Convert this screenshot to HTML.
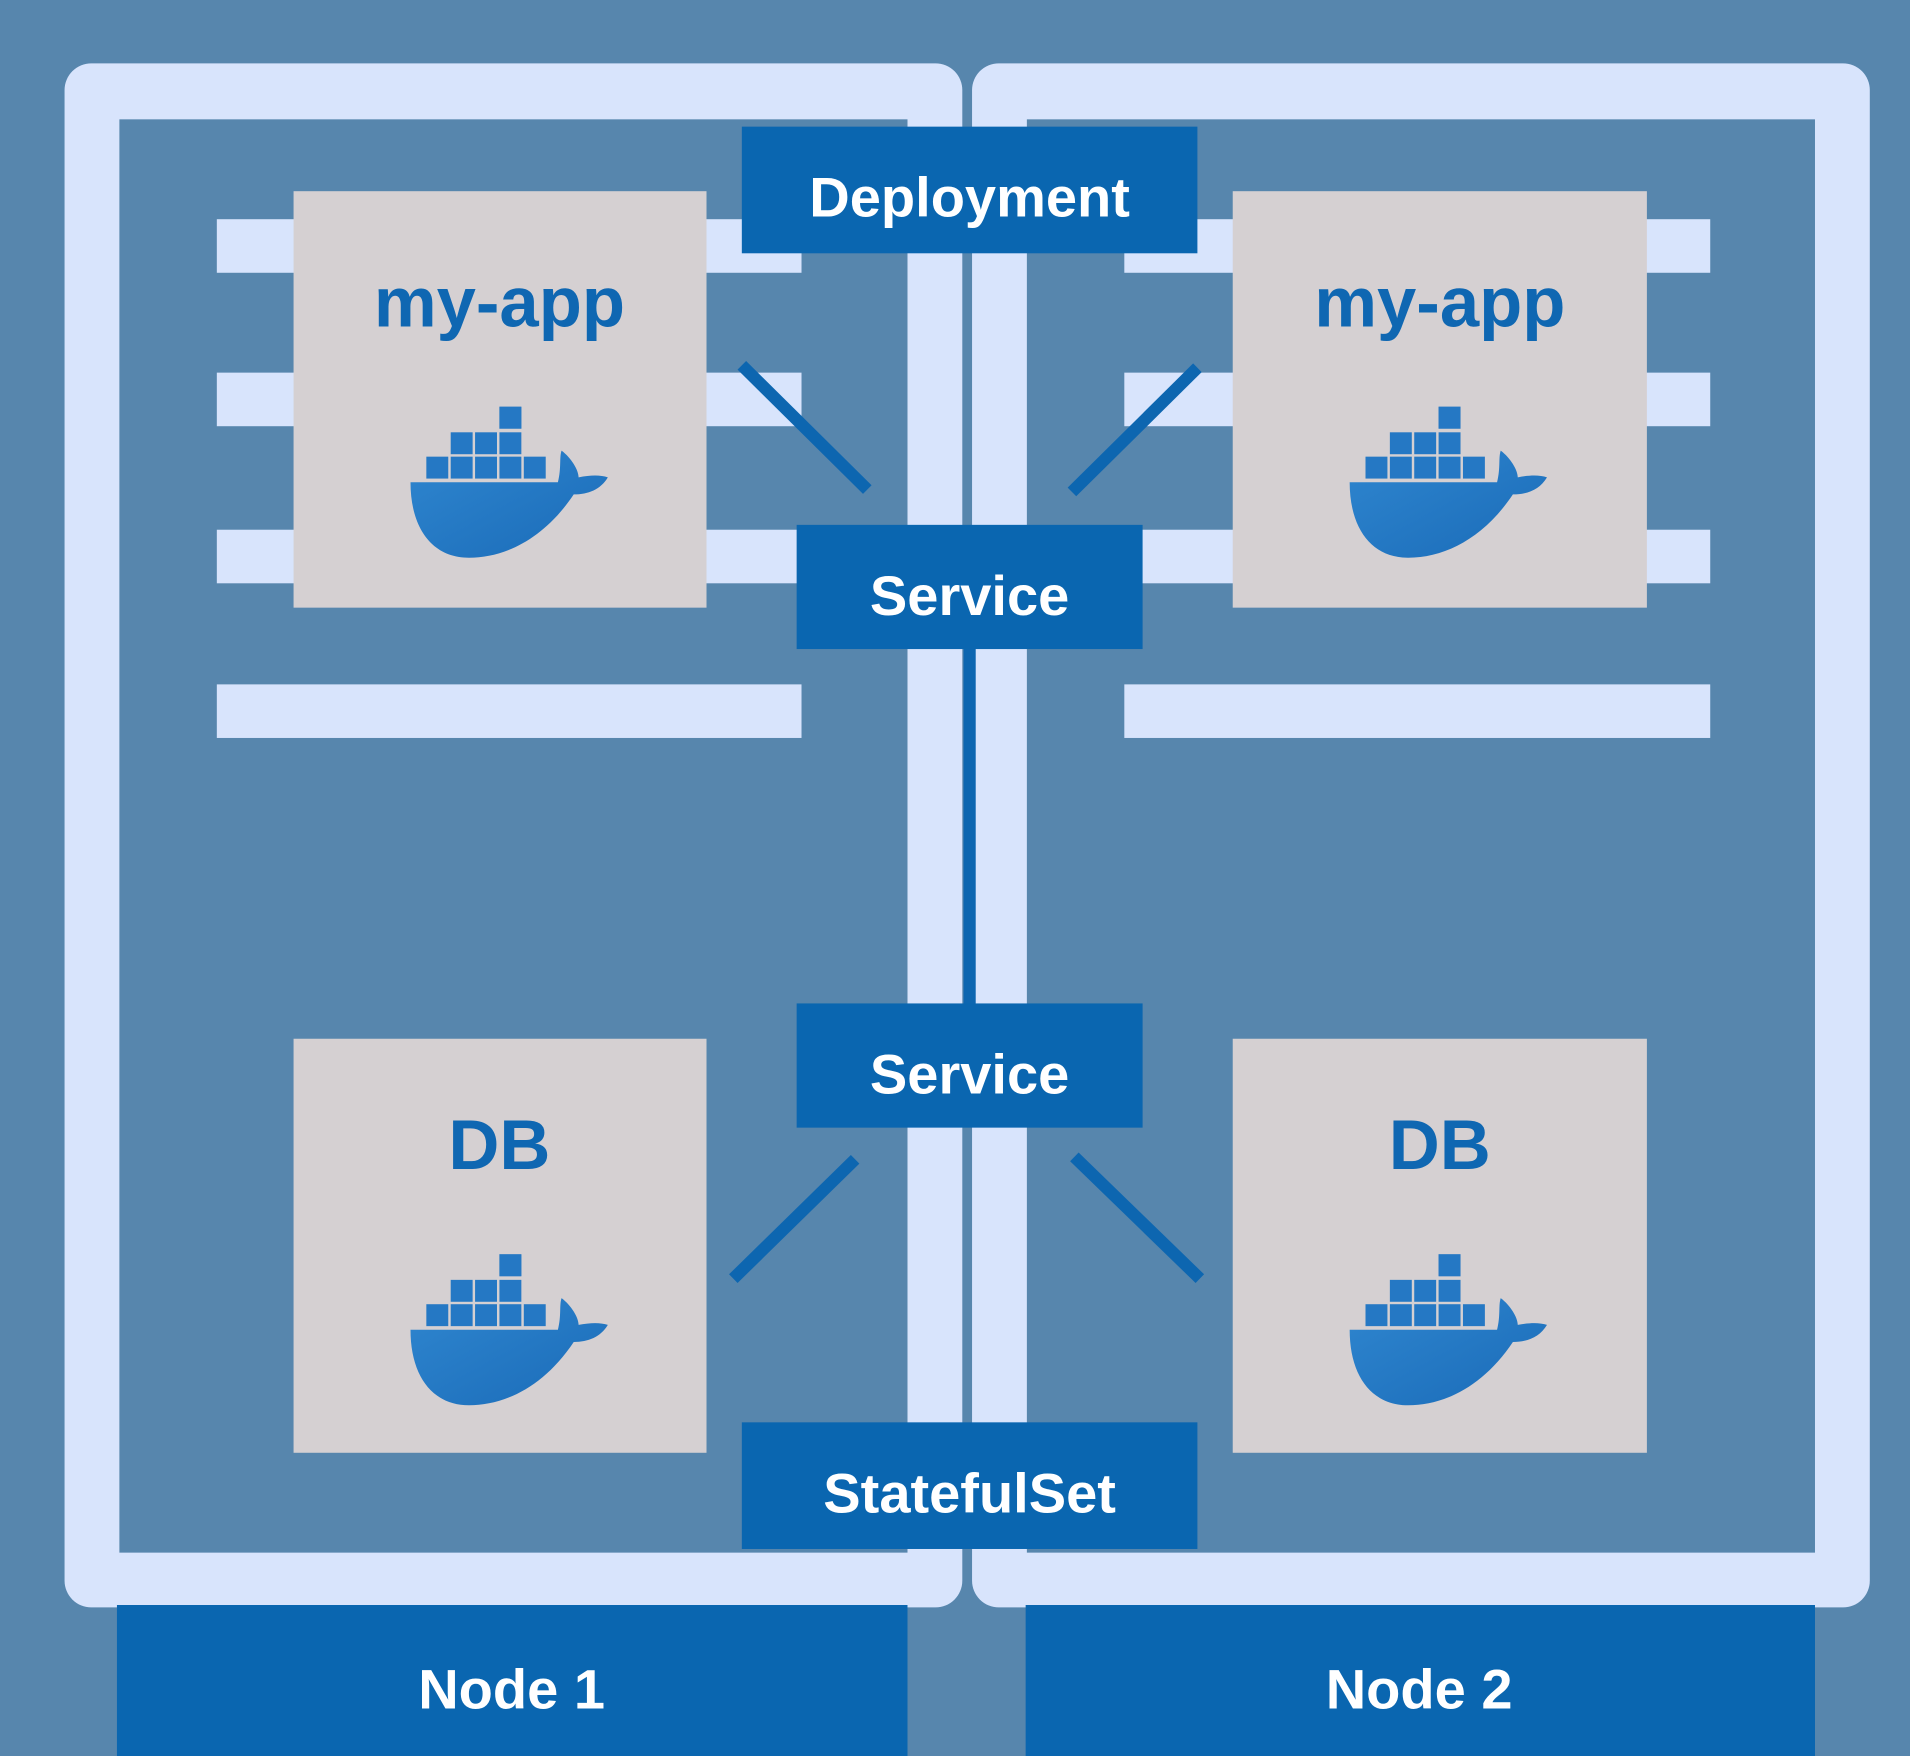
<!DOCTYPE html>
<html><head><meta charset="utf-8"><style>
html,body{margin:0;padding:0;background:#5786ad;}
svg{display:block}
text{font-family:"Liberation Sans",sans-serif;font-weight:bold;}
</style></head><body>
<svg width="1910" height="1756" viewBox="0 0 1568 1442" preserveAspectRatio="none" xmlns="http://www.w3.org/2000/svg">
<defs>
<linearGradient id="wg" x1="0" y1="0" x2="1" y2="1">
<stop offset="0" stop-color="#2f86cf"/><stop offset="1" stop-color="#1a6bb8"/>
</linearGradient>
<g id="whale">
<rect x="0" y="0" width="18" height="18" fill="#2578c4" transform="translate(75,0)"/>
<g fill="#2578c4">
<rect x="75" y="0" width="18" height="18"/>
<rect x="35" y="21" width="18" height="18"/><rect x="55" y="21" width="18" height="18"/><rect x="75" y="21" width="18" height="18"/>
<rect x="15" y="41" width="18" height="18"/><rect x="35" y="41" width="18" height="18"/><rect x="55" y="41" width="18" height="18"/><rect x="75" y="41" width="18" height="18"/><rect x="95" y="41" width="18" height="18"/>
</g>
<path d="M2,62 L123,62 C126,50 124,42 126,36 C134,42 140,52 140,58 C150,56 158,56 164,58 C158,68 148,72 136,72 C112,108 80,124 50,124 C20,124 2,100 2,62 Z" fill="url(#wg)"/>
</g>
</defs>
<rect width="1568" height="1442" fill="#5786ad"/>
<!-- frames -->
<rect x="53" y="52" width="737" height="1268" rx="22" fill="#d8e4fc"/>
<rect x="98" y="98" width="647" height="1177" fill="#5786ad"/>
<rect x="798" y="52" width="737" height="1268" rx="22" fill="#d8e4fc"/>
<rect x="843" y="98" width="647" height="1177" fill="#5786ad"/>
<!-- stripes -->
<g fill="#d8e4fc">
<rect x="178" y="180" width="480" height="44"/><rect x="178" y="306" width="480" height="44"/><rect x="178" y="435" width="480" height="44"/><rect x="178" y="562" width="480" height="44"/>
<rect x="923" y="180" width="481" height="44"/><rect x="923" y="306" width="481" height="44"/><rect x="923" y="435" width="481" height="44"/><rect x="923" y="562" width="481" height="44"/>
</g>
<!-- pods -->
<g fill="#d5d0d2">
<rect x="241" y="157" width="339" height="342"/><rect x="1012" y="157" width="340" height="342"/>
<rect x="241" y="853" width="339" height="340"/><rect x="1012" y="853" width="340" height="340"/>
</g>
<g fill="#0f67b2" text-anchor="middle" font-size="58">
<text x="410" y="268">my-app</text><text x="1182" y="268">my-app</text>
<text x="410" y="960">DB</text><text x="1182" y="960">DB</text>
</g>
<use href="#whale" x="335" y="334"/><use href="#whale" x="1106" y="334"/>
<use href="#whale" x="335" y="1030"/><use href="#whale" x="1106" y="1030"/>
<!-- connectors -->
<g stroke="#0d66b0" stroke-width="10">
<line x1="609" y1="300" x2="712" y2="402"/><line x1="983" y1="302" x2="880" y2="404"/>
<line x1="702" y1="952" x2="602" y2="1050"/><line x1="882" y1="950" x2="985" y2="1050"/>
<line x1="796" y1="530" x2="796" y2="828"/>
</g>
<!-- labels -->
<g fill="#0a66b0">
<rect x="609" y="104" width="374" height="104"/>
<rect x="654" y="431" width="284" height="102"/>
<rect x="654" y="824" width="284" height="102"/>
<rect x="609" y="1168" width="374" height="104"/>
<rect x="96" y="1318" width="649" height="124"/>
<rect x="842" y="1318" width="648" height="124"/>
</g>
<g fill="#ffffff" text-anchor="middle" font-size="46">
<text x="796" y="178">Deployment</text>
<text x="796" y="505">Service</text>
<text x="796" y="898">Service</text>
<text x="796" y="1242">StatefulSet</text>
<text x="420" y="1403">Node 1</text>
<text x="1165" y="1403">Node 2</text>
</g>
</svg>
</body></html>
